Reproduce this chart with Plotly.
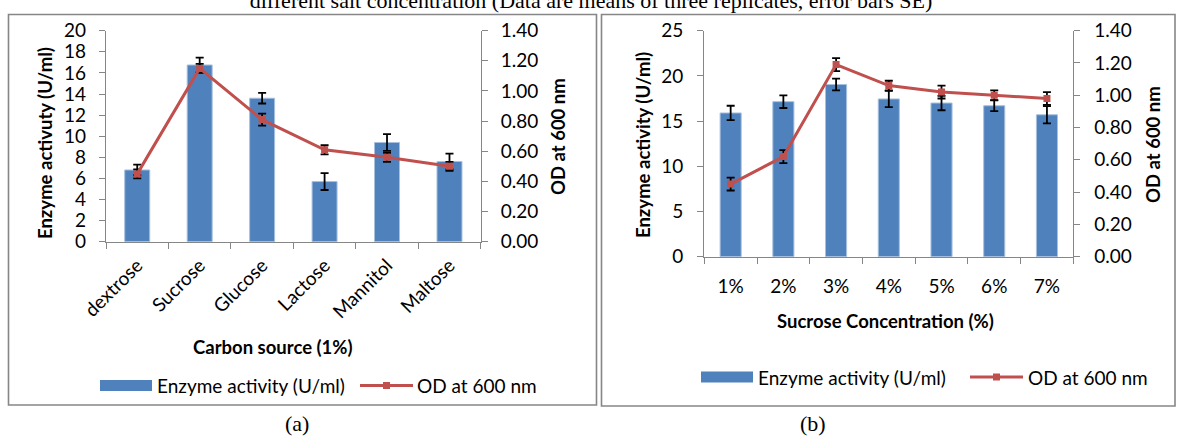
import plotly.graph_objects as go

W, H = 1177, 436

# ---------------- data ----------------
carbon_sources = ["dextrose", "Sucrose", "Glucose", "Lactose", "Mannitol", "Maltose"]
enzyme_a = [6.8, 16.75, 13.6, 5.7, 9.4, 7.6]
enzyme_a_err = [0.5, 0.7, 0.5, 0.8, 0.8, 0.75]
od_a = [0.45, 1.15, 0.81, 0.61, 0.56, 0.50]
od_a_err = [0.03, 0.03, 0.04, 0.03, 0.03, 0.03]

sucrose_conc = ["1%", "2%", "3%", "4%", "5%", "6%", "7%"]
enzyme_b = [15.9, 17.15, 19.05, 17.45, 17.0, 16.7, 15.7]
enzyme_b_err = [0.8, 0.7, 0.65, 0.9, 0.8, 0.6, 0.95]
od_b = [0.45, 0.62, 1.19, 1.06, 1.02, 1.00, 0.98]
od_b_err = [0.04, 0.04, 0.04, 0.03, 0.04, 0.03, 0.04]

enz_ticks_a = list(range(0, 21, 2))
enz_ticks_b = list(range(0, 26, 5))
od_ticks = [0, 0.2, 0.4, 0.6, 0.8, 1.0, 1.2, 1.4]

# ---------------- style ----------------
BLUE = "#4F81BD"
RED = "#C0504D"
GREY = "#868686"
FONT = "Lato"
TICKFONT = dict(family=FONT, size=19, color="black")
TITLEFONT = dict(family=FONT, size=18.5, color="black")


def px(x):
    return x / W


def py(y):
    return 1 - y / H


fig = go.Figure()

err_style = dict(type="data", color="black", thickness=1.8, width=4, visible=True)

# panel (a)
fig.add_trace(go.Bar(x=carbon_sources, y=enzyme_a, width=0.4, marker_color=BLUE,
                     marker_line=dict(color="#A7C0DE", width=1),
                     error_y=dict(array=enzyme_a_err, **err_style),
                     xaxis="x", yaxis="y", name="Enzyme activity (U/ml)", showlegend=False))
fig.add_trace(go.Scatter(x=carbon_sources, y=od_a, mode="lines+markers",
                         line=dict(color=RED, width=3), marker=dict(symbol="square", size=7, color=RED),
                         error_y=dict(array=od_a_err, **err_style),
                         xaxis="x", yaxis="y2", name="OD at 600 nm", showlegend=False))
# panel (b)
fig.add_trace(go.Bar(x=sucrose_conc, y=enzyme_b, width=0.4, marker_color=BLUE,
                     marker_line=dict(color="#A7C0DE", width=1),
                     error_y=dict(array=enzyme_b_err, **err_style),
                     xaxis="x2", yaxis="y3", name="Enzyme activity (U/ml)", showlegend=False))
fig.add_trace(go.Scatter(x=sucrose_conc, y=od_b, mode="lines+markers",
                         line=dict(color=RED, width=3), marker=dict(symbol="square", size=7, color=RED),
                         error_y=dict(array=od_b_err, **err_style),
                         xaxis="x2", yaxis="y4", name="OD at 600 nm", showlegend=False))

axis_common = dict(showline=True, linecolor=GREY, linewidth=1.3, ticks="outside", ticklen=6,
                   tickcolor=GREY, tickwidth=1.3, showgrid=False, zeroline=False, tickfont=TICKFONT,
                   automargin=False)

xa_dom = [px(106), px(480.7)]
ya_dom = [py(241.7), py(30.7)]
xb_dom = [px(704.3), px(1073.3)]
yb_dom = [py(256.7), py(30.7)]

fig.update_layout(
    width=W, height=H,
    margin=dict(l=0, r=0, t=0, b=0, autoexpand=False),
    paper_bgcolor="white", plot_bgcolor="white",
    title=dict(text="different salt concentration (Data are means of three replicates, error bars SE)",
               x=px(591), xanchor="center", y=py(0.5), yanchor="middle", xref="paper", yref="container",
               font=dict(family="Liberation Serif", size=22, color="black"), automargin=False),
    xaxis=dict(domain=xa_dom, anchor="y", type="category", tickson="boundaries",
               tickangle=-45, ticklabelstandoff=4, **axis_common),
    yaxis=dict(domain=ya_dom, anchor="x", range=[0, 20], tickvals=enz_ticks_a,
               ticklabelstandoff=9, **axis_common),
    yaxis2=dict(overlaying="y", anchor="x", side="right", range=[0, 1.4], tickvals=od_ticks,
                tickformat=".2f", ticklabelstandoff=9, **axis_common),
    xaxis2=dict(domain=xb_dom, anchor="y3", type="category", tickson="boundaries",
                ticklabelstandoff=12, **axis_common),
    yaxis3=dict(domain=yb_dom, anchor="x2", range=[0, 25], tickvals=enz_ticks_b,
                ticklabelstandoff=10, **axis_common),
    yaxis4=dict(overlaying="y3", anchor="x2", side="right", range=[0, 1.4], tickvals=od_ticks,
                tickformat=".2f", ticklabelstandoff=10, **axis_common),
)

shapes = []
# panel borders
shapes.append(dict(type="rect", xref="paper", yref="paper", x0=px(8.5), x1=px(596.5), y0=py(405), y1=py(14.5),
                   line=dict(color=GREY, width=1.6), fillcolor="rgba(0,0,0,0)", layer="below"))
shapes.append(dict(type="rect", xref="paper", yref="paper", x0=px(601.5), x1=px(1175), y0=py(406), y1=py(14.5),
                   line=dict(color=GREY, width=1.6), fillcolor="rgba(0,0,0,0)", layer="below"))

annotations = []


def legend(x_rect, y_c, x_text1, x_line0, x_line1, x_text2):
    shapes.append(dict(type="rect", xref="paper", yref="paper", x0=px(x_rect), x1=px(x_rect + 52),
                       y0=py(y_c + 5.5), y1=py(y_c - 5.5), line=dict(width=0), fillcolor=BLUE))
    shapes.append(dict(type="line", xref="paper", yref="paper", x0=px(x_line0), x1=px(x_line1),
                       y0=py(y_c), y1=py(y_c), line=dict(color=RED, width=3)))
    xm = (x_line0 + x_line1) / 2
    shapes.append(dict(type="rect", xref="paper", yref="paper", x0=px(xm - 3.5), x1=px(xm + 3.5),
                       y0=py(y_c + 3.5), y1=py(y_c - 3.5), line=dict(width=0), fillcolor=RED))
    annotations.append(dict(text="Enzyme activity (U/ml)", xref="paper", yref="paper", x=px(x_text1), y=py(y_c),
                            xanchor="left", yanchor="middle", showarrow=False, font=TICKFONT))
    annotations.append(dict(text="OD at 600 nm", xref="paper", yref="paper", x=px(x_text2), y=py(y_c),
                            xanchor="left", yanchor="middle", showarrow=False, font=TICKFONT))


legend(100, 385.5, 155, 360, 413, 415)
legend(701, 377, 756, 970, 1023, 1026)


def label(text, x, y, angle=0, bold=True, font=None, xanchor="center"):
    annotations.append(dict(text=f"<b>{text}</b>" if bold else text, xref="paper", yref="paper",
                            x=px(x), y=py(y), xanchor=xanchor, yanchor="middle", textangle=angle,
                            showarrow=False, font=font or TITLEFONT))


label("Enzyme activuty (U/ml)", 45, 143, angle=-90)
label("OD at 600 nm", 558, 137, angle=-90)
label("Enzyme activity (U/ml)", 643, 145, angle=-90)
label("OD at 600 nm", 1153, 145, angle=-90)
label("Carbon source (1%)", 273, 347)
label("Sucrose Concentration (%)", 885, 321)

serif = dict(family="Liberation Serif", size=22, color="black")
label("(a)", 297, 423, bold=False, font=serif)
label("(b)", 813, 423, bold=False, font=serif)

fig.update_layout(shapes=shapes, annotations=annotations)

fig.write_html("out.html", config={"displayModeBar": False},
               post_script="document.body.style.margin='0';document.body.style.overflow='hidden';")
